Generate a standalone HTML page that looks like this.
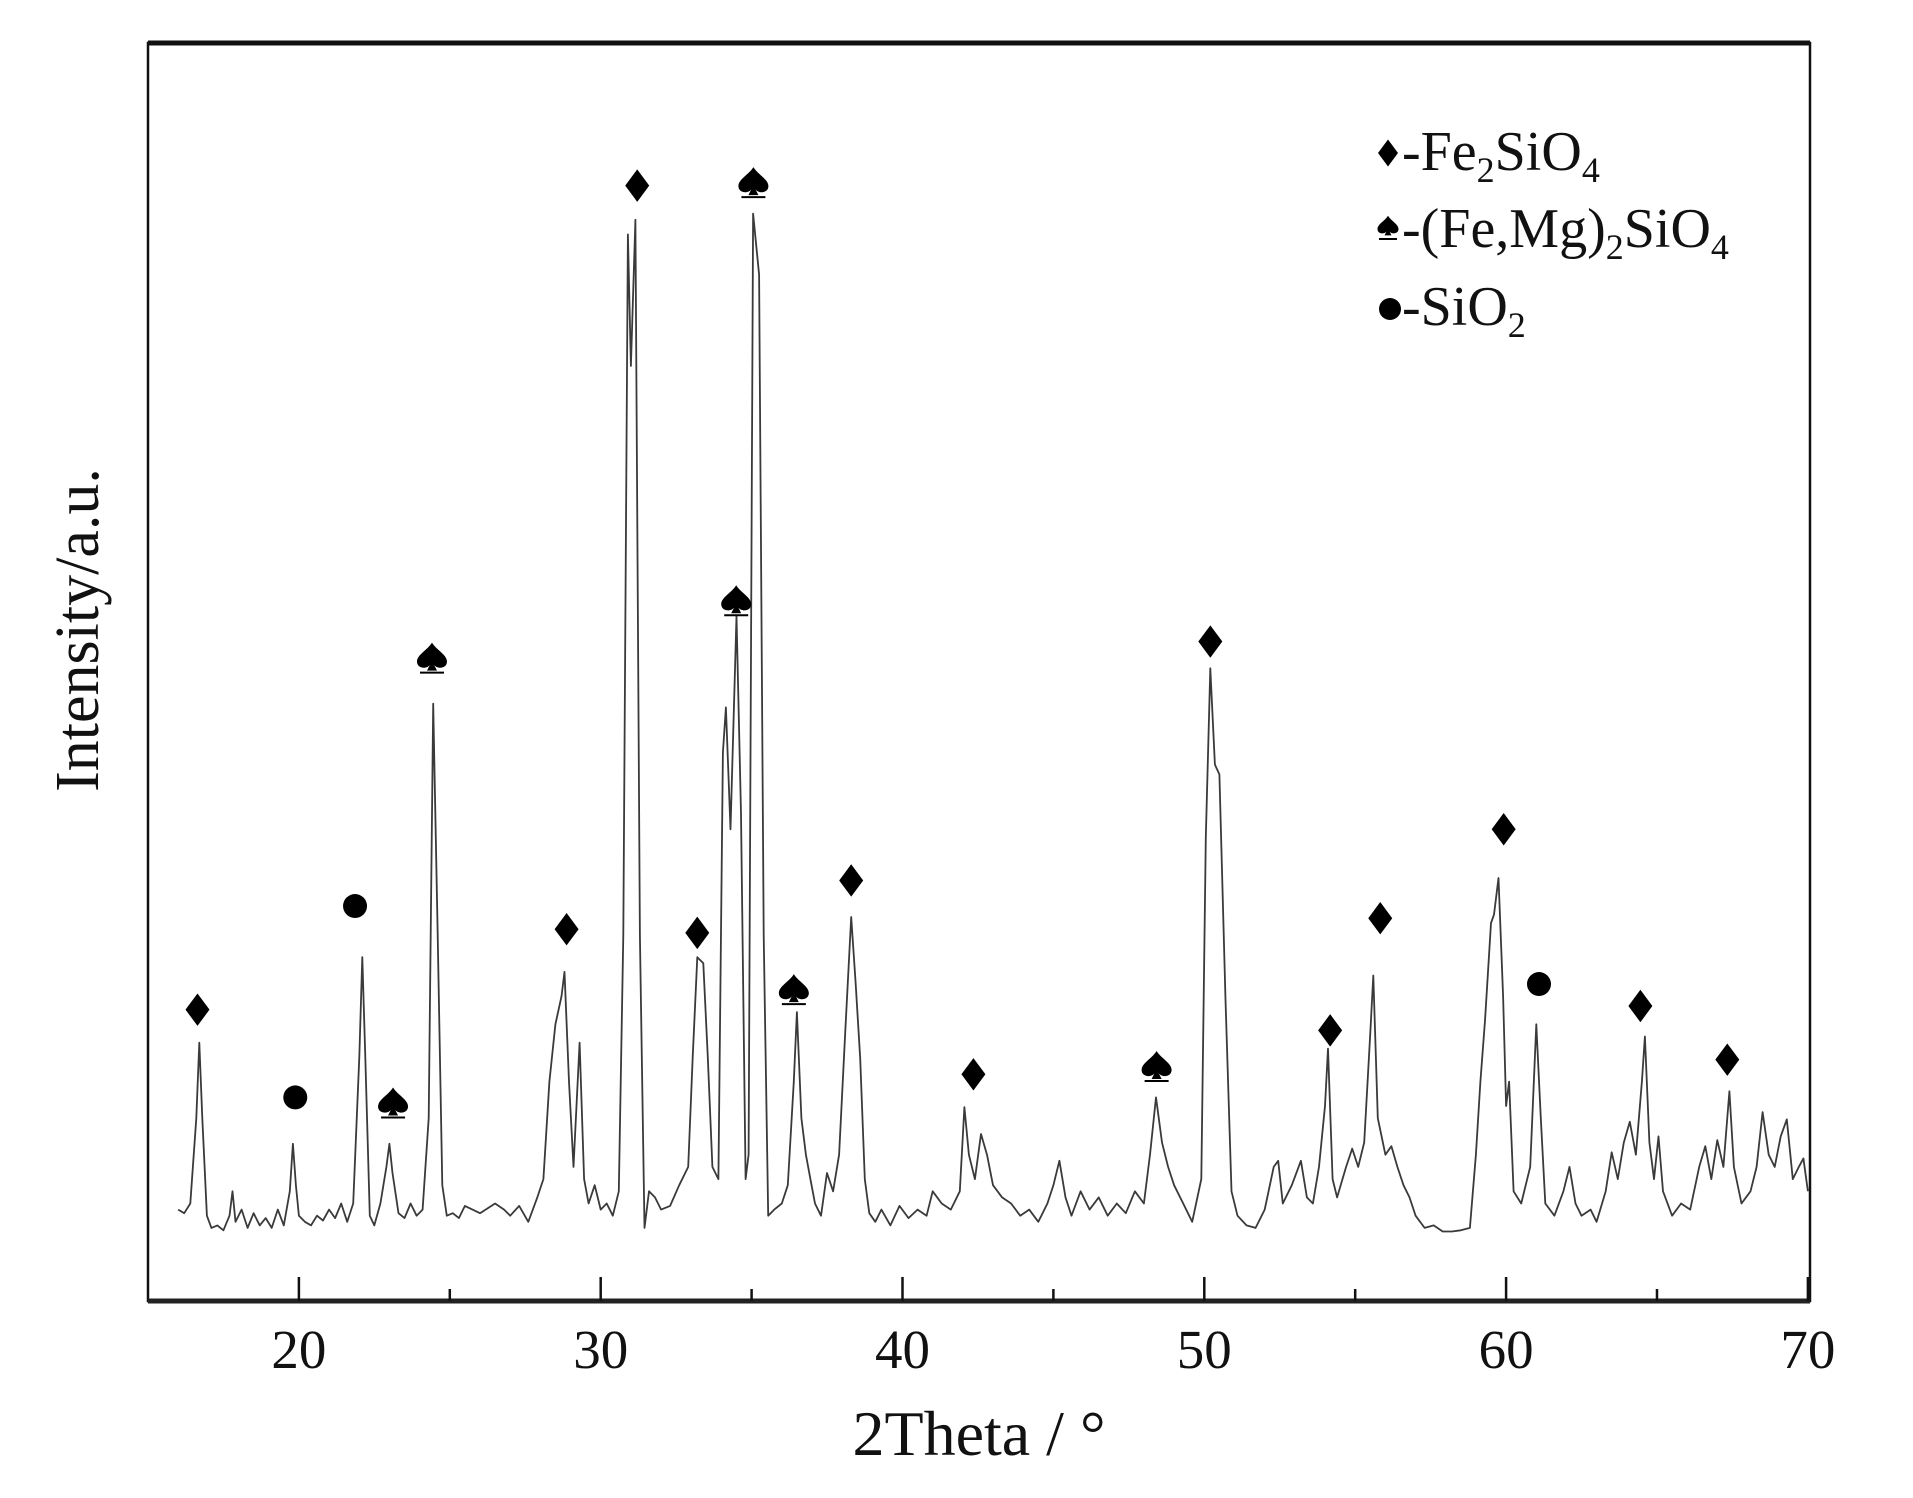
<!DOCTYPE html>
<html><head><meta charset="utf-8"><style>
html,body{margin:0;padding:0;background:#fff}
svg{display:block;font-family:"Liberation Serif","Times New Roman",serif}
</style></head><body>
<svg id="chart" width="1913" height="1498" viewBox="0 0 1913 1498" xmlns="http://www.w3.org/2000/svg">
<g id="plot"></g>
</svg>
<script>
const twoTheta=[16.0,16.2,16.4,16.6,16.7,16.8,16.95,17.1,17.3,17.5,17.7,17.8,17.9,18.1,18.3,18.5,18.7,18.9,19.1,19.3,19.5,19.7,19.8,19.9,20.0,20.2,20.4,20.6,20.8,21.0,21.2,21.4,21.6,21.8,22.0,22.1,22.2,22.35,22.5,22.7,22.9,23.0,23.1,23.3,23.5,23.7,23.9,24.1,24.3,24.45,24.6,24.75,24.9,25.1,25.3,25.5,26.0,26.5,26.8,27.0,27.3,27.6,27.9,28.1,28.3,28.5,28.7,28.8,28.95,29.1,29.3,29.45,29.6,29.8,30.0,30.2,30.4,30.6,30.75,30.9,31.0,31.15,31.3,31.45,31.6,31.8,32.0,32.3,32.6,32.9,33.05,33.2,33.4,33.55,33.7,33.9,34.05,34.15,34.3,34.5,34.65,34.8,34.9,35.05,35.25,35.4,35.55,35.75,36.0,36.2,36.4,36.5,36.65,36.8,36.95,37.1,37.3,37.5,37.7,37.9,38.1,38.3,38.45,38.6,38.75,38.9,39.1,39.3,39.6,39.9,40.2,40.5,40.8,41.0,41.3,41.6,41.9,42.05,42.2,42.4,42.6,42.8,43.0,43.3,43.6,43.9,44.2,44.5,44.8,45.0,45.2,45.4,45.6,45.9,46.2,46.5,46.8,47.1,47.4,47.7,48.0,48.2,48.4,48.6,48.8,49.0,49.3,49.6,49.9,50.05,50.2,50.35,50.5,50.7,50.9,51.1,51.4,51.7,52.0,52.3,52.45,52.6,52.9,53.2,53.4,53.6,53.8,54.0,54.1,54.25,54.4,54.7,54.9,55.1,55.3,55.5,55.6,55.75,56.0,56.2,56.4,56.6,56.8,57.0,57.3,57.6,57.9,58.2,58.5,58.8,59.0,59.15,59.3,59.5,59.6,59.75,59.9,60.0,60.1,60.25,60.5,60.8,61.0,61.15,61.3,61.6,61.9,62.1,62.3,62.5,62.8,63.0,63.3,63.5,63.7,63.9,64.1,64.3,64.5,64.6,64.75,64.9,65.05,65.2,65.5,65.8,66.1,66.4,66.6,66.8,67.0,67.2,67.4,67.55,67.8,68.1,68.3,68.5,68.7,68.9,69.1,69.3,69.5,69.7,69.85,70.0];
const intensity=[75,72,80,150,212,150,70,60,62,58,70,90,65,75,60,72,62,68,60,75,62,90,129,95,70,65,62,70,66,75,68,80,65,80,200,282,200,70,62,80,110,129,105,72,68,80,70,75,150,490,300,95,70,72,68,78,72,80,75,70,78,65,85,100,180,227,250,270,180,110,212,100,80,95,75,80,70,90,300,875,767,887,300,60,90,85,75,78,95,110,200,282,277,200,110,100,450,487,387,562,400,100,120,892,842,300,70,75,80,95,180,237,150,120,100,80,70,105,90,120,220,315,260,199,100,72,65,75,62,78,68,75,70,90,80,75,90,159,120,100,137,120,95,85,80,70,75,65,80,95,115,85,70,90,75,85,70,80,72,90,80,120,167,130,110,95,80,65,100,380,519,440,432,250,90,70,62,60,75,110,115,80,95,115,85,80,110,160,207,100,85,110,125,110,130,220,267,150,120,127,110,95,85,70,60,62,57,57,58,60,120,180,230,310,317,347,250,160,180,90,80,110,227,150,80,70,90,110,80,70,75,65,90,122,100,130,147,120,180,217,130,100,135,90,70,80,75,110,127,100,132,110,172,110,80,90,110,155,120,110,135,149,100,110,117,90];
const xTicks=[20,30,40,50,60,70];
const xMinorTicks=[25,35,45,55,65];
const diamondX=[16.64,28.87,31.21,33.20,38.30,42.35,50.20,54.17,55.83,59.92,64.45,67.33];
const diamondY=[239,305,915,302,345,186,541,222,314,387,242,198];
const spadeX=[24.41,23.12,35.06,34.49,36.40,48.42];
const spadeY=[527,162,917,574,255,192];
const circleX=[21.86,19.88,61.09];
const circleY=[324,167,260];

const L=148,R=1810,T=43,B=1301,xMin=15,xMax=70.07,yMax=1032;
const X=v=>L+(v-xMin)/(xMax-xMin)*(R-L);
const Y=v=>B-v/yMax*(B-T);
const NS='http://www.w3.org/2000/svg';
const g=document.getElementById('plot');
function mk(tag,attrs){const e=document.createElementNS(NS,tag);for(const k in attrs)e.setAttribute(k,attrs[k]);g.appendChild(e);return e;}

let d='';
for(let i=0;i<twoTheta.length;i++){d+=(i?'L':'M')+X(twoTheta[i]).toFixed(1)+' '+Y(intensity[i]).toFixed(1);}
const path=mk('path',{d:d,fill:'none',stroke:'#3a3a3a','stroke-width':1.8,'stroke-linejoin':'round'});



const fr=mk('rect',{x:L,y:T,width:R-L,height:B-T,fill:'none',stroke:'#111','stroke-width':2.5});


const topL=mk('line',{x1:L,y1:T,x2:R,y2:T,stroke:'#111','stroke-width':5});


const botL=mk('line',{x1:L,y1:B,x2:R,y2:B,stroke:'#222','stroke-width':5});



xTicks.forEach(t=>{
  const tl=mk('line',{x1:X(t),y1:B,x2:X(t),y2:B-24,stroke:'#111','stroke-width':2.5});
  
  
  const tx=mk('text',{x:X(t),y:1368,'text-anchor':'middle','font-size':55,fill:'#111'});
  tx.textContent=t;
  
  
});
xMinorTicks.forEach(t=>{
  const tl=mk('line',{x1:X(t),y1:B,x2:X(t),y2:B-12,stroke:'#111','stroke-width':2.5});
  
  
});

function diamond(cx,cy,s){return `M${cx} ${cy-s*1.35}L${cx+s} ${cy}L${cx} ${cy+s*1.35}L${cx-s} ${cy}Z`;}
function spade(cx,cy){
  return `M${cx} ${cy-16}C${cx+5} ${cy-8} ${cx+15} ${cy-4} ${cx+15} ${cy+3}C${cx+15} ${cy+10} ${cx+5} ${cy+11} ${cx+2} ${cy+6}L${cx+5} ${cy+12}L${cx-5} ${cy+12}L${cx-2} ${cy+6}C${cx-5} ${cy+11} ${cx-15} ${cy+10} ${cx-15} ${cy+3}C${cx-15} ${cy-4} ${cx-5} ${cy-8} ${cx} ${cy-16}Z`;
}
diamondX.forEach((v,i)=>{
  const m=mk('path',{d:diamond(X(v),Y(diamondY[i]),12),fill:'#000'});
  
  
});
spadeX.forEach((v,i)=>{
  const cx=X(v),cy=Y(spadeY[i]);
  const m=mk('path',{d:spade(cx,cy),fill:'#000'});
  
  
  const u=mk('line',{x1:cx-12,y1:cy+14,x2:cx+12,y2:cy+14,stroke:'#000','stroke-width':2});
  
  
});
circleX.forEach((v,i)=>{
  const m=mk('circle',{cx:X(v),cy:Y(circleY[i]),r:12,fill:'#000'});
  
  
});

const lg=[{y:170,k:'d',html:'-Fe<tspan font-size="36" dy="12">2</tspan><tspan dy="-12">SiO</tspan><tspan font-size="36" dy="12">4</tspan>'},
{y:247,k:'s',html:'-(Fe,Mg)<tspan font-size="36" dy="12">2</tspan><tspan dy="-12">SiO</tspan><tspan font-size="36" dy="12">4</tspan>'},
{y:325,k:'c',html:'-SiO<tspan font-size="36" dy="12">2</tspan>'}];
const lx=1388;
lg.forEach(o=>{
  let m;
  if(o.k==='d'){m=mk('path',{d:diamond(lx,o.y-17,10),fill:'#000'});}
  else if(o.k==='s'){m=mk('path',{d:spade(lx,o.y-20),fill:'#000',transform:`translate(${lx*0.3} ${(o.y-20)*0.3}) scale(0.7)`});
    const u=mk('line',{x1:lx-9,y1:o.y-8,x2:lx+9,y2:o.y-8,stroke:'#000','stroke-width':2});
    
    }
  else {m=mk('circle',{cx:lx+2,cy:o.y-16,r:11,fill:'#000'});}
  
  
  const t=mk('text',{x:lx+14,y:o.y,'font-size':56,fill:'#111'});
  t.innerHTML=o.html;
  
  
});

const xt=mk('text',{x:(L+R)/2,y:1455,'text-anchor':'middle','font-size':64,fill:'#111'});
xt.textContent='2Theta / °';


const yt=mk('text',{x:0,y:0,'text-anchor':'middle','font-size':62,fill:'#111',transform:'translate(98 630) rotate(-90)'});
yt.textContent='Intensity/a.u.';


</script>
</body></html>
